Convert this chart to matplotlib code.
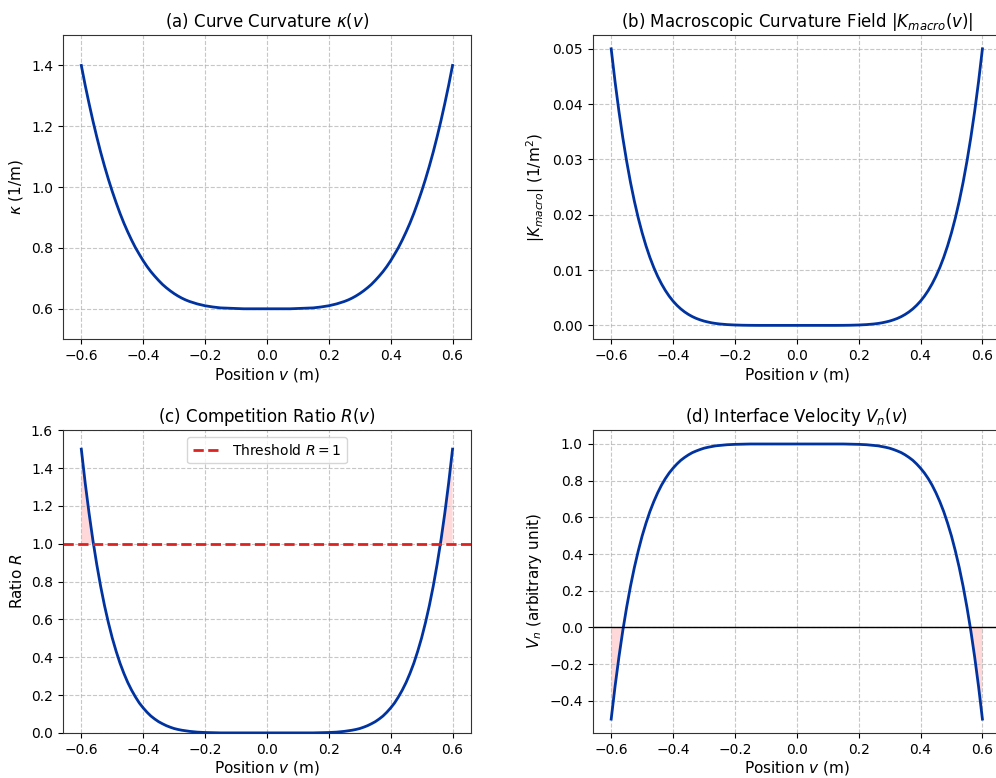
import matplotlib
matplotlib.use('Agg')
import matplotlib.pyplot as plt
from matplotlib.ticker import FuncFormatter

# positions along the curve (m); denser near the ends where the curves bend
v = [-0.6, -0.5875, -0.575, -0.5625, -0.55, -0.5375, -0.525, -0.5125, -0.5, -0.4875,
     -0.475, -0.4625, -0.45, -0.4375, -0.425, -0.4125, -0.4, -0.3875, -0.375, -0.3625,
     -0.35, -0.3375, -0.325, -0.3125, -0.3, -0.2875, -0.275, -0.2625, -0.25,
     -0.225, -0.2, -0.175, -0.15, -0.125, -0.1, -0.075, -0.05, -0.025, 0.0,
     0.025, 0.05, 0.075, 0.1, 0.125, 0.15, 0.175, 0.2, 0.225,
     0.25, 0.2625, 0.275, 0.2875, 0.3, 0.3125, 0.325, 0.3375, 0.35, 0.3625,
     0.375, 0.3875, 0.4, 0.4125, 0.425, 0.4375, 0.45, 0.4625, 0.475, 0.4875,
     0.5, 0.5125, 0.525, 0.5375, 0.55, 0.5625, 0.575, 0.5875, 0.6]

# (a) curve curvature kappa (1/m)
kappa = [1.400, 1.335, 1.275, 1.218, 1.165, 1.115, 1.069, 1.026, 0.986, 0.949,
         0.914, 0.882, 0.853, 0.826, 0.801, 0.779, 0.758, 0.739, 0.722, 0.707,
         0.693, 0.680, 0.669, 0.659, 0.650, 0.642, 0.635, 0.629, 0.624,
         0.616, 0.610, 0.606, 0.603, 0.602, 0.601, 0.600, 0.600, 0.600, 0.600,
         0.600, 0.600, 0.600, 0.601, 0.602, 0.603, 0.606, 0.610, 0.616,
         0.624, 0.629, 0.635, 0.642, 0.650, 0.659, 0.669, 0.680, 0.693, 0.707,
         0.722, 0.739, 0.758, 0.779, 0.801, 0.826, 0.853, 0.882, 0.914, 0.949,
         0.986, 1.026, 1.069, 1.115, 1.165, 1.218, 1.275, 1.335, 1.400]

# (b) macroscopic curvature field |K_macro| (1/m^2)
k_macro = [0.05000, 0.04407, 0.03873, 0.03395, 0.02967, 0.02584, 0.02244, 0.01942, 0.01675, 0.01439,
           0.01231, 0.01049, 0.00890, 0.00752, 0.00632, 0.00528, 0.00439, 0.00363, 0.00298, 0.00243,
           0.00197, 0.00158, 0.00126, 0.00100, 0.00078, 0.00061, 0.00046, 0.00035, 0.00026,
           0.00014, 0.00007, 0.00003, 0.00001, 0.0, 0.0, 0.0, 0.0, 0.0, 0.0,
           0.0, 0.0, 0.0, 0.0, 0.0, 0.00001, 0.00003, 0.00007, 0.00014,
           0.00026, 0.00035, 0.00046, 0.00061, 0.00078, 0.00100, 0.00126, 0.00158, 0.00197, 0.00243,
           0.00298, 0.00363, 0.00439, 0.00528, 0.00632, 0.00752, 0.00890, 0.01049, 0.01231, 0.01439,
           0.01675, 0.01942, 0.02244, 0.02584, 0.02967, 0.03395, 0.03873, 0.04407, 0.05000]

# (c) competition ratio R
ratio = [1.500, 1.322, 1.162, 1.018, 0.890, 0.775, 0.673, 0.583, 0.502, 0.432,
         0.369, 0.315, 0.267, 0.226, 0.190, 0.158, 0.132, 0.109, 0.089, 0.073,
         0.059, 0.048, 0.038, 0.030, 0.023, 0.018, 0.014, 0.011, 0.008,
         0.004, 0.002, 0.001, 0.000, 0.000, 0.000, 0.000, 0.000, 0.000, 0.000,
         0.000, 0.000, 0.000, 0.000, 0.000, 0.000, 0.001, 0.002, 0.004,
         0.008, 0.011, 0.014, 0.018, 0.023, 0.030, 0.038, 0.048, 0.059, 0.073,
         0.089, 0.109, 0.132, 0.158, 0.190, 0.226, 0.267, 0.315, 0.369, 0.432,
         0.502, 0.583, 0.673, 0.775, 0.890, 1.018, 1.162, 1.322, 1.500]

# (d) interface velocity V_n
vel = [-0.500, -0.322, -0.162, -0.018, 0.110, 0.225, 0.327, 0.417, 0.498, 0.568,
       0.631, 0.685, 0.733, 0.775, 0.811, 0.842, 0.868, 0.891, 0.911, 0.927,
       0.941, 0.953, 0.962, 0.970, 0.977, 0.982, 0.986, 0.990, 0.992,
       0.996, 0.998, 0.999, 1.000, 1.000, 1.000, 1.000, 1.000, 1.000, 1.000,
       1.000, 1.000, 1.000, 1.000, 1.000, 1.000, 0.999, 0.998, 0.996,
       0.992, 0.990, 0.986, 0.982, 0.977, 0.970, 0.962, 0.953, 0.941, 0.927,
       0.911, 0.891, 0.868, 0.842, 0.811, 0.775, 0.733, 0.685, 0.631, 0.568,
       0.498, 0.417, 0.327, 0.225, 0.110, -0.018, -0.162, -0.322, -0.500]

threshold = 1.0

line_color = '#0033a0'
red = '#dd2222'


def fmt_x(x, pos):
    if abs(x) < 1e-9:
        x = 0.0
    return f'{x:.1f}'.replace('-', '\u2212')


fig = plt.figure(figsize=(9.96, 7.78), dpi=100)
ax1 = fig.add_axes([0.063, 0.564, 0.410, 0.391])
ax2 = fig.add_axes([0.595, 0.564, 0.410, 0.391])
ax3 = fig.add_axes([0.063, 0.058, 0.410, 0.389])
ax4 = fig.add_axes([0.595, 0.058, 0.410, 0.389])

# (a)
ax1.plot(v, kappa, color=line_color, lw=2)
ax1.set_ylim(0.5, 1.5)
ax1.set_title(r'(a) Curve Curvature $\kappa(v)$', fontsize=12)
ax1.set_ylabel(r'$\kappa$ (1/m)', fontsize=11)

# (b)
ax2.plot(v, k_macro, color=line_color, lw=2)
ax2.set_title(r'(b) Macroscopic Curvature Field $|K_{macro}(v)|$', fontsize=12)
ax2.set_ylabel(r'$|K_{macro}|$ (1/m$^2$)', fontsize=11)

# (c)
ax3.plot(v, ratio, color=line_color, lw=2)
ax3.axhline(threshold, color=red, ls='--', lw=2, label=r'Threshold $R=1$')
ax3.fill_between(v, ratio, threshold, where=[r > threshold for r in ratio],
                 interpolate=True, color='red', alpha=0.15, lw=0)
ax3.set_ylim(0, 1.6)
ax3.set_title(r'(c) Competition Ratio $R(v)$', fontsize=12)
ax3.set_ylabel(r'Ratio $R$', fontsize=11)
ax3.legend(loc='upper center', fontsize=10)

# (d)
ax4.plot(v, vel, color=line_color, lw=2)
ax4.axhline(0, color='black', lw=1)
ax4.fill_between(v, vel, 0, where=[x < 0 for x in vel],
                 interpolate=True, color='red', alpha=0.15, lw=0)
ax4.set_title(r'(d) Interface Velocity $V_n(v)$', fontsize=12)
ax4.set_ylabel(r'$V_n$ (arbitrary unit)', fontsize=11)

for ax in [ax1, ax2, ax3, ax4]:
    ax.set_xlabel(r'Position $v$ (m)', fontsize=11, labelpad=2)
    ax.grid(True, ls='--', alpha=0.7)
    ax.tick_params(labelsize=10)
    ax.xaxis.set_major_formatter(FuncFormatter(fmt_x))
    for s in ax.spines.values():
        s.set_edgecolor('#333333')

plt.savefig('out.png', dpi=100)
